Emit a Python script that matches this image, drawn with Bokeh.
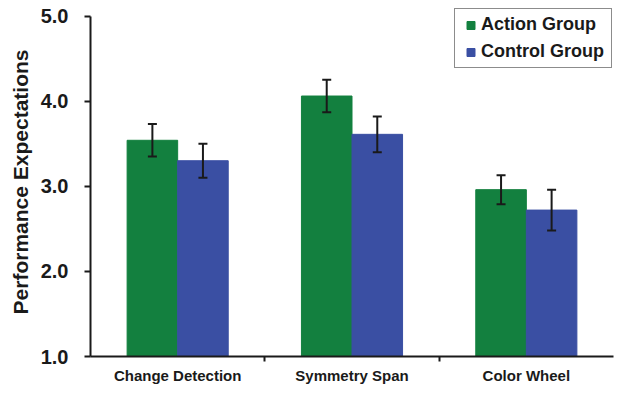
import numpy as np
from bokeh.plotting import figure
from bokeh.models import (Range1d, FixedTicker, Whisker, TeeHead, ColumnDataSource,
                          Legend, PrintfTickFormatter)
from bokeh.embed import file_html
from bokeh.resources import INLINE

# ---- data ----
categories = ["Change Detection", "Symmetry Span", "Color Wheel"]
series_names = ["Action Group", "Control Group"]
action_mean = [3.54, 4.06, 2.96]
action_err = [0.19, 0.19, 0.17]
control_mean = [3.30, 3.61, 2.72]
control_err = [0.20, 0.21, 0.24]
y_ticks = [1.0, 2.0, 3.0, 4.0, 5.0]
y_label = "Performance Expectations"

# ---- styles ----
FONT = "Liberation Sans"
GREEN = "#13803f"
BLUE = "#3a4fa3"
INK = "#1a1a1a"
BAR_W = 0.29

centers = np.arange(len(categories)) + 0.5
x_action = centers - BAR_W / 2
x_control = centers + BAR_W / 2

src_a = ColumnDataSource(dict(
    x=x_action, top=action_mean,
    upper=np.array(action_mean) + np.array(action_err),
    lower=np.array(action_mean) - np.array(action_err)))
src_c = ColumnDataSource(dict(
    x=x_control, top=control_mean,
    upper=np.array(control_mean) + np.array(control_err),
    lower=np.array(control_mean) - np.array(control_err)))

p = figure(width=615, height=386, output_backend="svg", toolbar_location=None,
           x_range=Range1d(0, len(categories)),
           y_range=Range1d(y_ticks[0], y_ticks[-1] + 0.1),
           min_border_left=90, min_border_right=2, min_border_top=7, min_border_bottom=27)
p.outline_line_color = None
p.xgrid.visible = False
p.ygrid.visible = False
p.background_fill_color = "#ffffff"

ra = p.vbar(x="x", top="top", bottom=y_ticks[0], width=BAR_W, source=src_a,
            fill_color=GREEN, line_color=GREEN)
rc = p.vbar(x="x", top="top", bottom=y_ticks[0], width=BAR_W, source=src_c,
            fill_color=BLUE, line_color=BLUE)

for src in (src_a, src_c):
    w = Whisker(base="x", upper="upper", lower="lower", source=src,
                line_color=INK, line_width=2, level="overlay",
                upper_head=TeeHead(size=9, line_color=INK, line_width=2),
                lower_head=TeeHead(size=9, line_color=INK, line_width=2))
    p.add_layout(w)

# hidden square-marker renderers used only as legend swatches
la = p.scatter(x="x", y="top", source=src_a, marker="square",
               fill_color=GREEN, line_color=GREEN, visible=False)
lc = p.scatter(x="x", y="top", source=src_c, marker="square",
               fill_color=BLUE, line_color=BLUE, visible=False)

# x axis
xa = p.xaxis[0]
xa.ticker = FixedTicker(ticks=list(centers), minor_ticks=list(np.arange(1, len(categories))))
xa.major_label_overrides = {float(c): n for c, n in zip(centers, categories)}
xa.major_tick_line_color = None
xa.major_tick_out = 0
xa.major_tick_in = 0
xa.minor_tick_line_color = INK
xa.minor_tick_line_width = 2
xa.minor_tick_out = 5
xa.minor_tick_in = 0
xa.axis_line_color = INK
xa.axis_line_width = 2
xa.major_label_text_font = FONT
xa.major_label_text_font_style = "bold"
xa.major_label_text_font_size = "15px"
xa.major_label_text_color = INK
xa.major_label_standoff = 5

# y axis
ya = p.yaxis[0]
ya.ticker = FixedTicker(ticks=y_ticks)
ya.bounds = (y_ticks[0], y_ticks[-1])
ya.formatter = PrintfTickFormatter(format="%.1f")
ya.minor_tick_line_color = None
ya.major_tick_out = 6
ya.major_tick_in = 0
ya.major_tick_line_color = INK
ya.major_tick_line_width = 2
ya.axis_line_color = INK
ya.axis_line_width = 2
ya.major_label_text_font = FONT
ya.major_label_text_font_style = "bold"
ya.major_label_text_font_size = "20px"
ya.major_label_text_color = INK
ya.major_label_standoff = 16
ya.axis_label = y_label
ya.axis_label_text_font = FONT
ya.axis_label_text_font_style = "bold"
ya.axis_label_text_font_size = "21px"
ya.axis_label_text_color = INK
ya.axis_label_standoff = 6

legend = Legend(items=[(series_names[0], [la]), (series_names[1], [lc])],
                location=(364, 288))
legend.label_text_font = FONT
legend.label_text_font_style = "bold"
legend.label_text_font_size = "18px"
legend.label_text_color = INK
legend.glyph_width = 21
legend.glyph_height = 20
legend.label_standoff = 0
legend.label_height = 21
legend.label_width = 125
legend.spacing = 6
legend.padding = 5
legend.margin = 0
legend.border_line_color = INK
legend.border_line_width = 1
legend.background_fill_color = "#ffffff"
legend.background_fill_alpha = 1.0
p.add_layout(legend, "center")

open("out.html", "w").write(file_html(p, INLINE))
